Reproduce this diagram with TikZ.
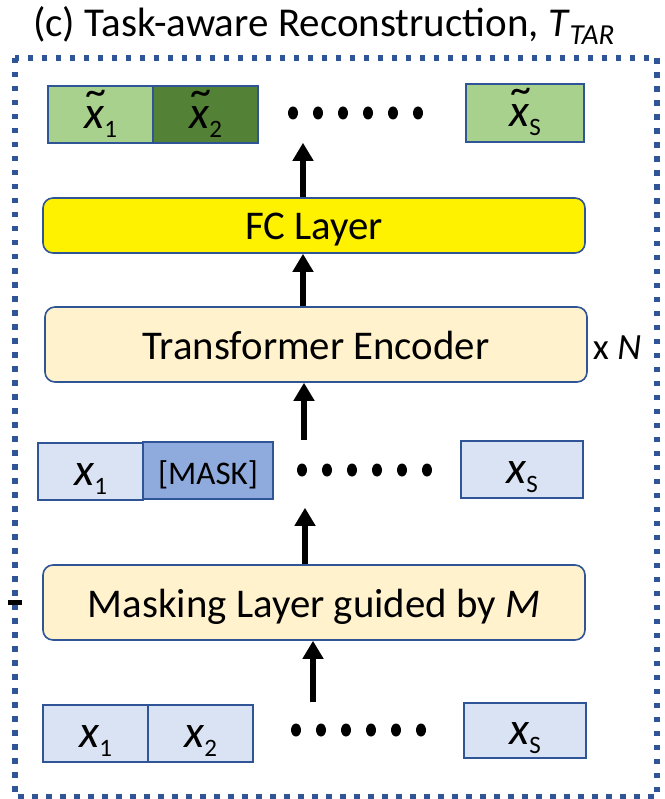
\documentclass[tikz,border=0pt]{standalone}
\usepackage{fix-cm}
\usepackage{fontspec}
\setmainfont{Carlito}
\usepackage{tikz}
\usetikzlibrary{arrows.meta,positioning}

\definecolor{bordblue}{HTML}{2F5597}
\definecolor{lgreen}{HTML}{A9D18E}
\definecolor{dgreen}{HTML}{538135}
\definecolor{lblue}{HTML}{DAE3F3}
\definecolor{mblue}{HTML}{8FAADC}
\definecolor{cream}{HTML}{FFF2CC}

\newcommand{\subs}[1]{\raisebox{-9pt}{\fontsize{25}{25}\selectfont #1}}
\newcommand{\tokx}[1]{\textit{x}\subs{#1}}
\newcommand{\tokt}[1]{\sbox0{\textit{x}}\rlap{\makebox[\wd0][c]{\hspace{4pt}\raisebox{23pt}{\fontsize{42}{42}\selectfont\textasciitilde}}}\usebox0\subs{#1}}

\begin{document}
\begin{tikzpicture}
			[
				x=1pt, y=-1pt,
				tok/.style={draw=bordblue, line width=1.6pt, minimum height=57pt, inner sep=0pt,
					text height=30pt, text depth=2pt, font=\fontsize{46}{50}\selectfont},
				layer/.style={draw=bordblue, line width=1.6pt, rounded corners=10pt, minimum width=542pt,
					inner sep=0pt, text height=30pt, text depth=1pt, font=\fontsize{40.8}{46}\selectfont},
				arrow/.style={-{Triangle[width=20pt,length=18pt]}, line width=6.5pt},
				frame/.style={draw=bordblue, line width=5.5pt, dash pattern=on 5.5pt off 8.5pt}
			]
			\useasboundingbox (0,0) rectangle (664,799);

			% title and frame
			\node[anchor=base west, inner sep=0pt, font=\fontsize{41}{46}\selectfont] (title) at (33,37)
				{(c) Task-aware Reconstruction, \textit{T}\raisebox{-8pt}{\fontsize{29}{29}\selectfont\itshape TAR}};
			\draw[frame] (15,58) rectangle (657,797);
			\draw[line width=5pt] (8,602) -- (22,602);

			% output tokens
			\node[tok, fill=lgreen, minimum width=105pt] (out1) at (100.5,114.5) {\tokt{1}};
			\node[tok, fill=dgreen, minimum width=105pt] (out2) at (205.5,114.5) {\tokt{2}};
			\node[tok, fill=lgreen, minimum width=118pt, minimum height=58pt] (outS) at (525,113) {\tokt{S}};

			% layers
			\node[layer, fill=yellow, minimum height=55pt] (fc) at (314,225.5) {FC Layer};
			\node[layer, fill=cream, minimum height=75pt] (enc) at (316,344.5) {Transformer Encoder};
			\node[anchor=base, inner sep=0pt, font=\fontsize{37}{42}\selectfont] (rep) at (617,359) {x \textit{N}};

			% masked tokens
			\node[tok, fill=lblue, minimum width=105pt] (mid1) at (90.5,471.5) {\tokx{1}};
			\node[tok, fill=mblue, minimum width=130pt, font=\fontsize{33}{38}\selectfont] (mid2) at (208,470.5) {[MASK]};
			\node[tok, fill=lblue, minimum width=122pt] (midS) at (522,469.5) {\tokx{S}};

			\node[layer, fill=cream, minimum height=75pt] (mask) at (314,602.5) {Masking Layer guided by \textit{M}};

			% input tokens
			\node[tok, fill=lblue, minimum width=105pt] (in1) at (95.5,733.5) {\tokx{1}};
			\node[tok, fill=lblue, minimum width=105pt] (in2) at (200.5,733.5) {\tokx{2}};
			\node[tok, fill=lblue, minimum width=122pt, minimum height=55pt] (inS) at (525,730.5) {\tokx{S}};

			% dots
			\foreach \y/\x in {113/293,470/302,730/296}
			\foreach \i in {0,...,5}
			\fill (\x+25*\i,\y) ellipse [x radius=5pt, y radius=6.5pt];

			% arrows
			\coordinate (c1) at (303,0);
			\coordinate (c2) at (304,0);
			\coordinate (c3) at (305,0);
			\coordinate (c4) at (313,0);
			\draw[arrow] (fc.north -| c1) -- (outS.south -| c1);
			\draw[arrow] (enc.north -| c1) -- (fc.south -| c1);
			\draw[arrow] (midS.north -| c2) -- (enc.south -| c2);
			\draw[arrow, shorten >=9pt] (mask.north -| c3) -- (midS.south -| c3);
			\draw[arrow] (inS.north -| c4) -- (mask.south -| c4);

		\end{tikzpicture}
\end{document}
